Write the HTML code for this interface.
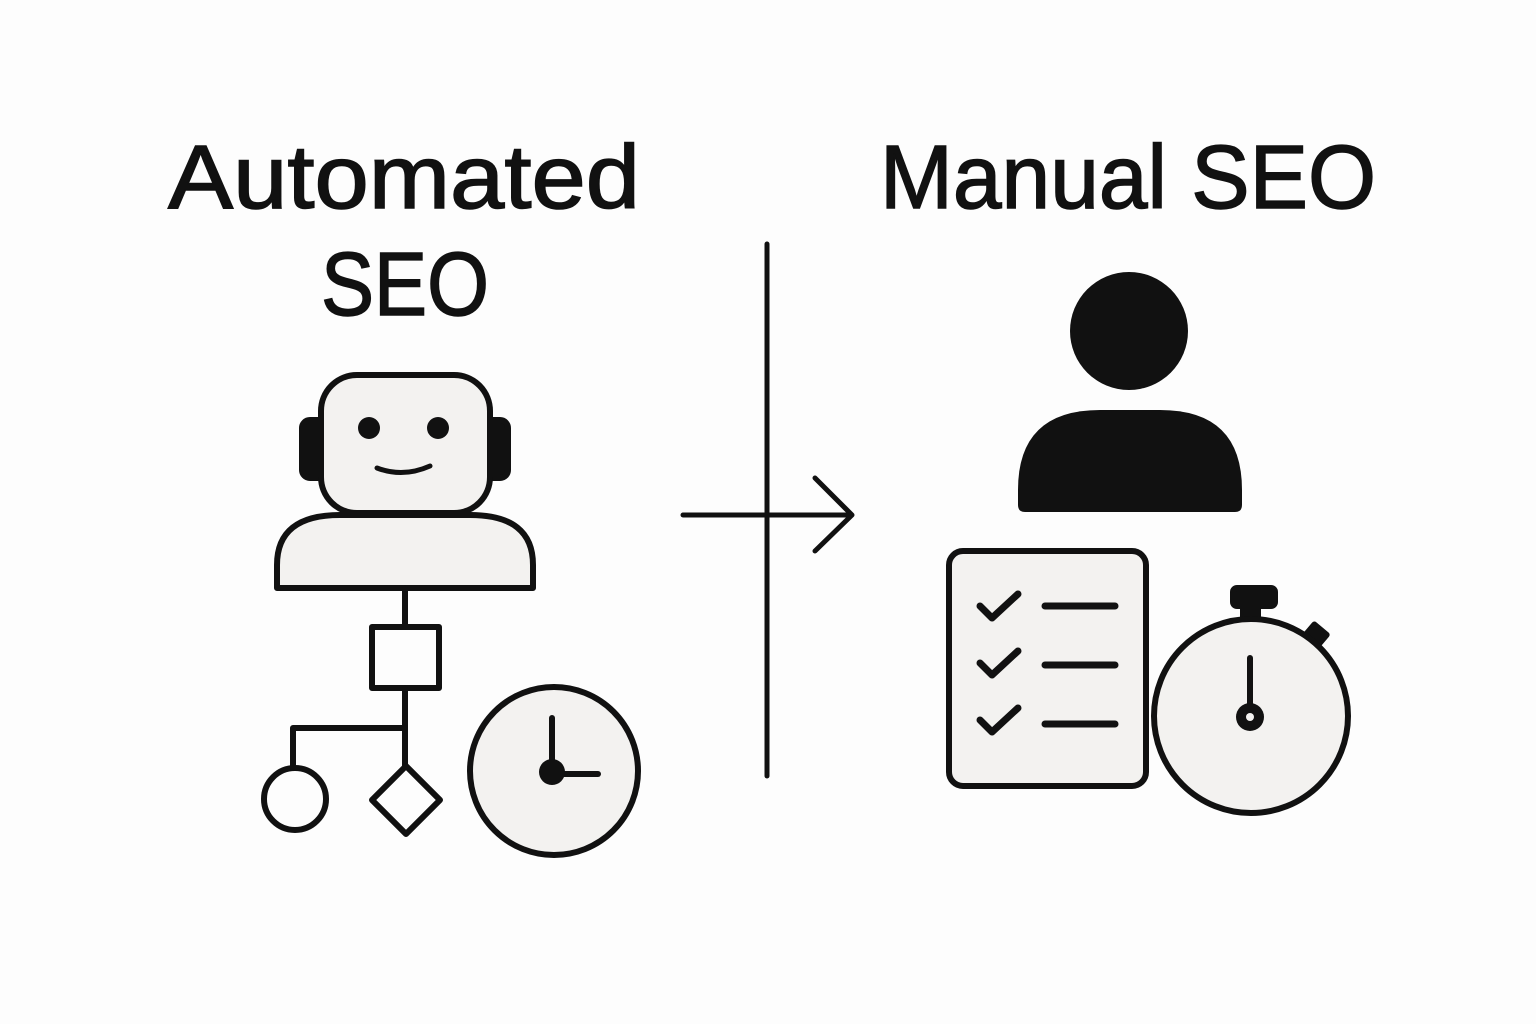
<!DOCTYPE html>
<html><head><meta charset="utf-8"><style>
html,body{margin:0;padding:0;background:#fdfdfd;}
svg{display:block}
text{font-family:"Liberation Sans","DejaVu Sans",sans-serif;fill:#111;stroke:#111;stroke-width:1.5;}
</style></head><body>
<svg width="1536" height="1024" viewBox="0 0 1536 1024" xmlns="http://www.w3.org/2000/svg">
<rect width="1536" height="1024" fill="#fdfdfd"/>
<text x="168" y="208" font-size="90" textLength="472" lengthAdjust="spacingAndGlyphs">Automated</text>
<text x="321" y="315" font-size="90" textLength="168" lengthAdjust="spacingAndGlyphs">SEO</text>
<text x="880" y="208" font-size="90" textLength="496" lengthAdjust="spacingAndGlyphs">Manual SEO</text>

<g stroke="#111" stroke-width="6" fill="#f3f2f0" stroke-linecap="round" stroke-linejoin="round">
  <rect x="302" y="420" width="24" height="58" rx="8" fill="#111"/>
  <rect x="484" y="420" width="24" height="58" rx="8" fill="#111"/>
  <rect x="321" y="375" width="169" height="138" rx="36"/>
  <path d="M277,588 L277,565 Q277,515 340,515 L470,515 Q533,515 533,565 L533,588 Z"/>
  <line x1="405" y1="588" x2="405" y2="627"/>
  <rect x="372" y="627" width="67" height="61" fill="#fdfdfd"/>
  <line x1="405" y1="688" x2="405" y2="768"/>
  <polyline points="293,768 293,728 405,728" fill="none"/>
  <circle cx="295" cy="799" r="31" fill="#fdfdfd"/>
  <path d="M406,766 L440,800 L406,834 L372,800 Z" fill="#fdfdfd"/>
  <circle cx="554" cy="771" r="84"/>
  <line x1="552" y1="771" x2="552" y2="718"/>
  <line x1="552" y1="774" x2="598" y2="774"/>
  <line x1="767" y1="244" x2="767" y2="776" fill="none" stroke-width="5"/>
  <line x1="683" y1="515" x2="850" y2="515" stroke-width="5"/>
  <polyline points="815,478 852,515 815,551" fill="none" stroke-width="5"/>
  <rect x="949" y="551" width="197" height="235" rx="14"/>
  <polyline points="980,606 992,618 1018,594" fill="none" stroke-width="7"/>
  <polyline points="980,663 992,675 1018,651" fill="none" stroke-width="7"/>
  <polyline points="980,720 992,732 1018,708" fill="none" stroke-width="7"/>
  <line x1="1045" y1="606" x2="1115" y2="606" stroke-width="7"/>
  <line x1="1045" y1="665" x2="1115" y2="665" stroke-width="7"/>
  <line x1="1045" y1="724" x2="1115" y2="724" stroke-width="7"/>
  <rect x="1243" y="600" width="15" height="22" fill="#111"/>
  <rect x="1233" y="588" width="42" height="18" rx="4" fill="#111"/>
  <rect x="1308" y="628" width="16" height="14" fill="#111" transform="rotate(40 1316 635)"/>
  <circle cx="1251" cy="716" r="97"/>
  <line x1="1250" y1="658" x2="1250" y2="710" stroke-width="6"/>
</g>
<circle cx="369" cy="428" r="11" fill="#111"/>
<circle cx="438" cy="428" r="11" fill="#111"/>
<path d="M377,468 Q403,478 430,466" fill="none" stroke="#111" stroke-width="5" stroke-linecap="round"/>
<circle cx="552" cy="772" r="13" fill="#111"/>
<circle cx="1250" cy="717" r="14" fill="#111"/>
<circle cx="1250" cy="717" r="4" fill="#f3f2f0"/>
<circle cx="1129" cy="331" r="59" fill="#111"/>
<path d="M1018,505 L1018,490 Q1018,410 1100,410 L1160,410 Q1242,410 1242,490 L1242,505 Q1242,512 1235,512 L1025,512 Q1018,512 1018,505 Z" fill="#111"/>
</svg>
</body></html>
